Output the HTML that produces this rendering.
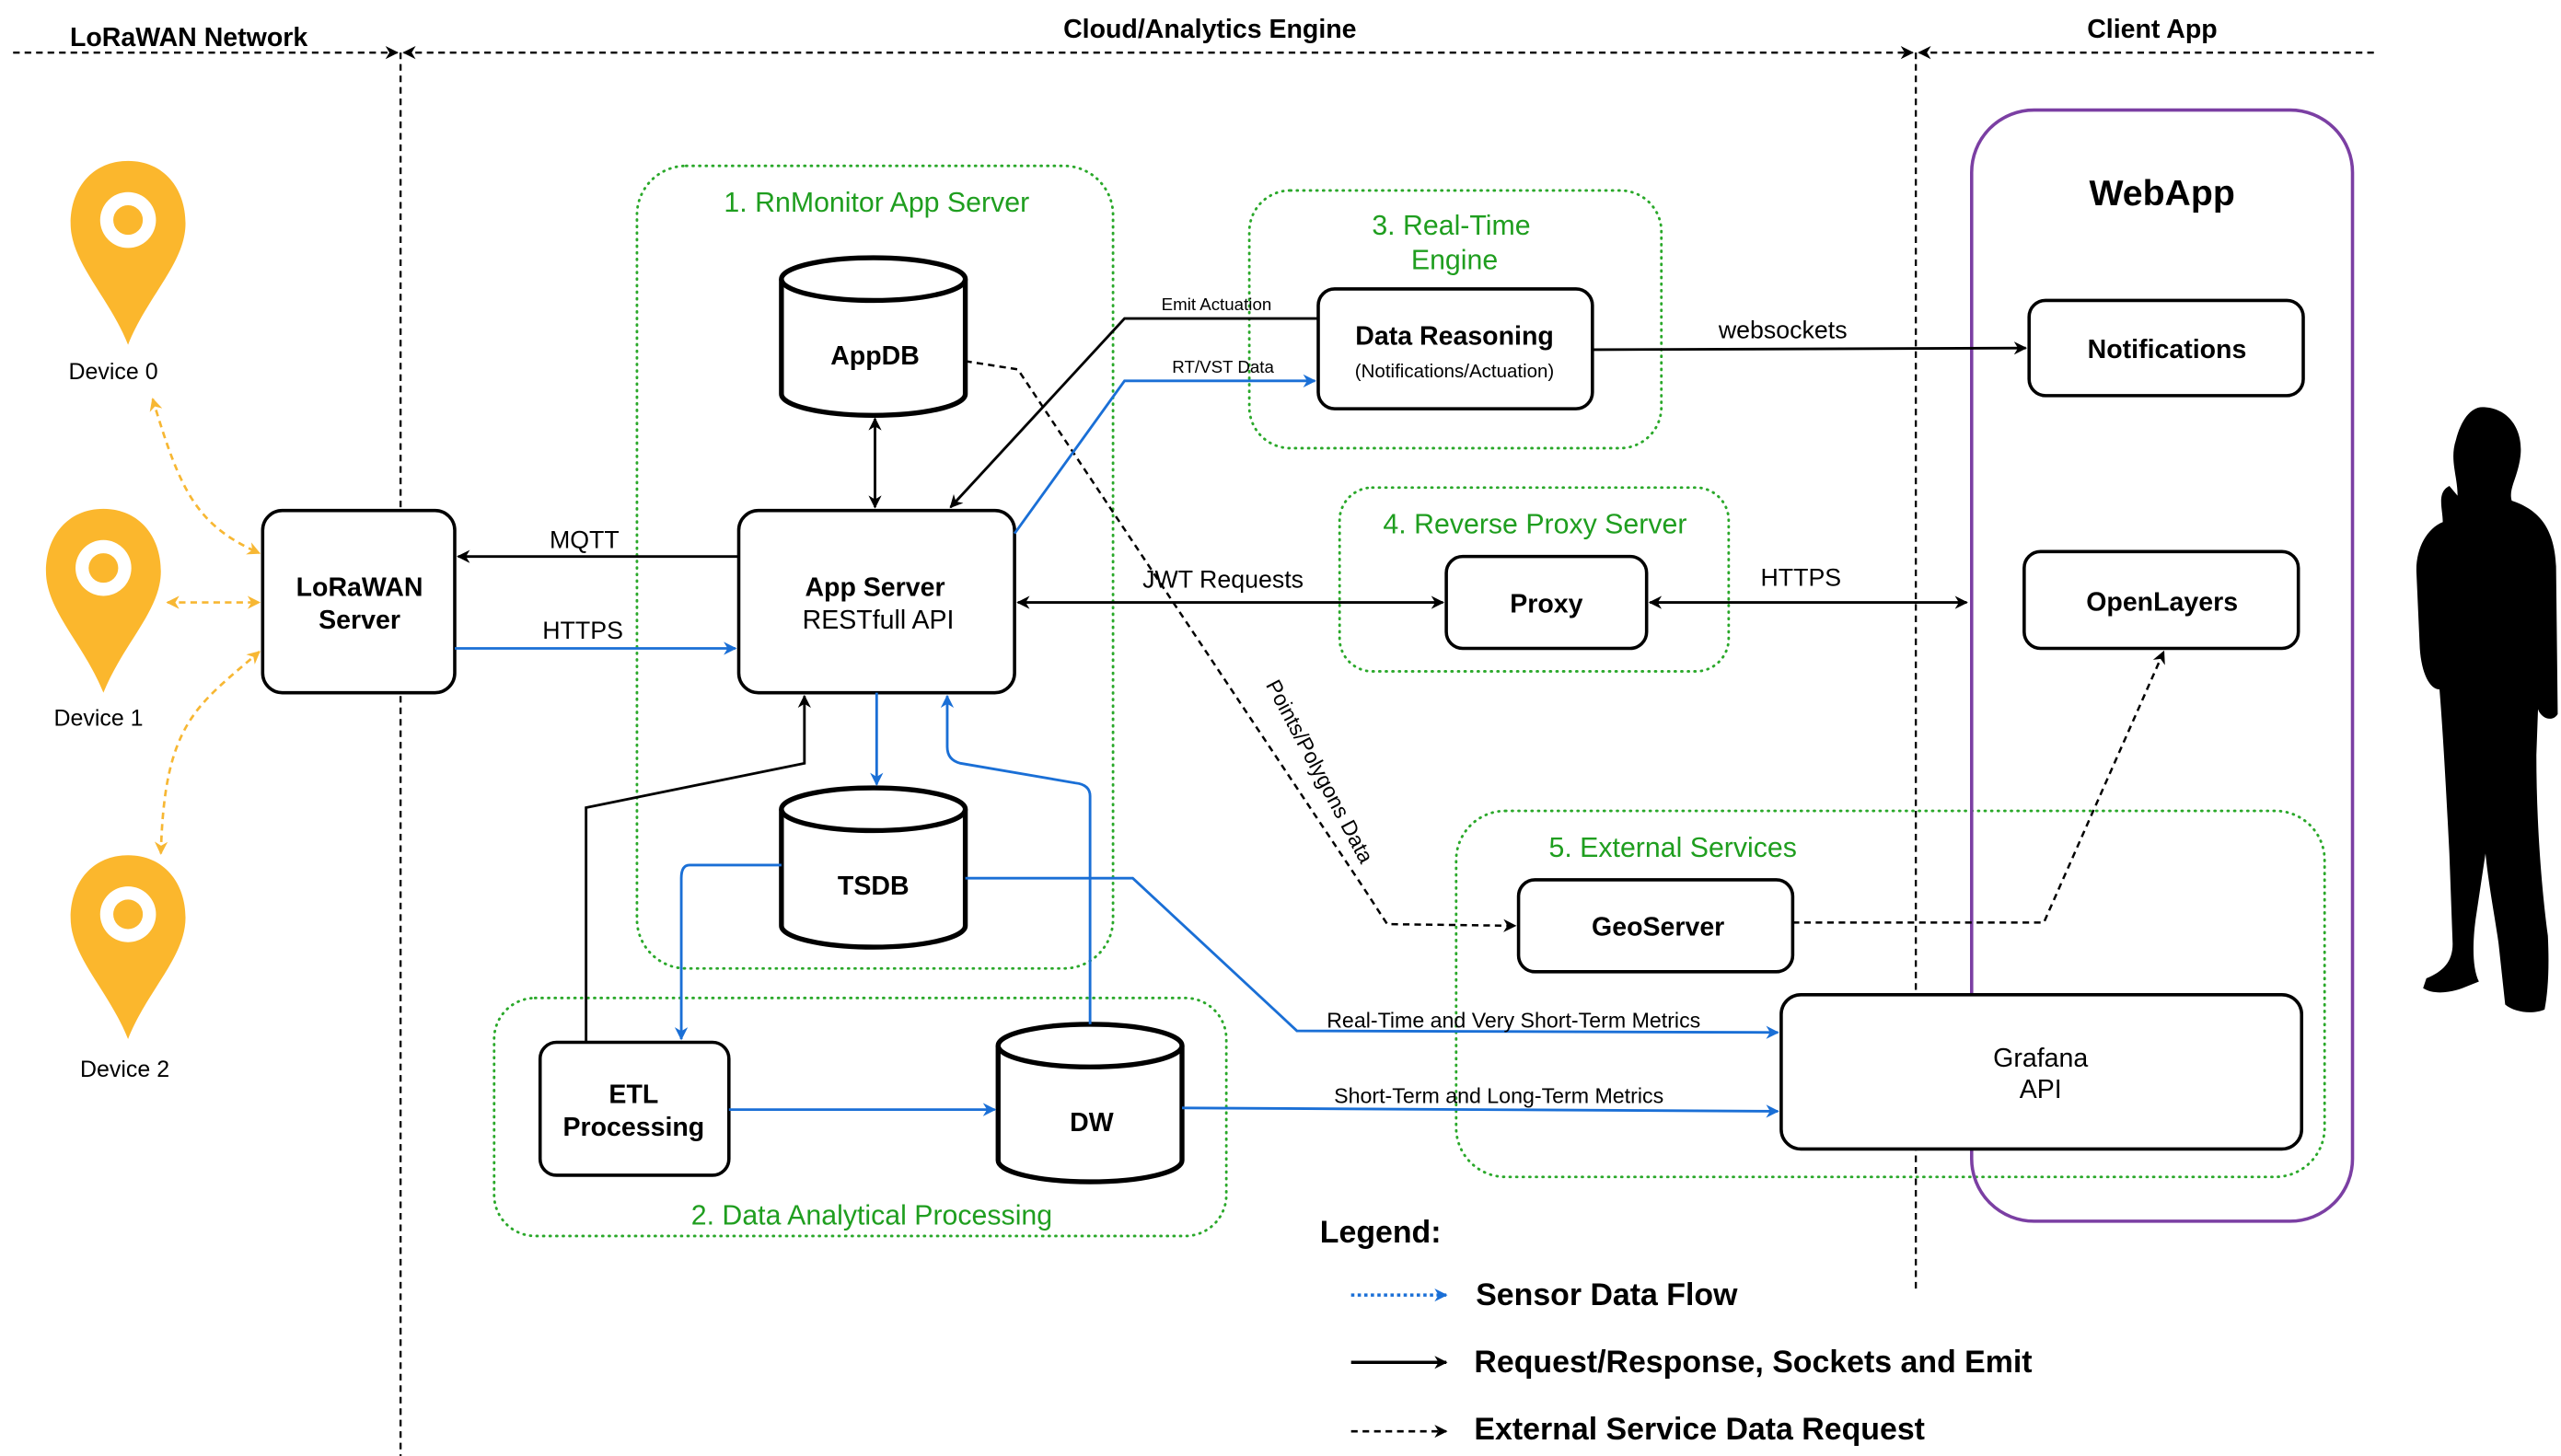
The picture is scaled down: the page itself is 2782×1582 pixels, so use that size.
<!DOCTYPE html>
<html><head><meta charset="utf-8"><style>
html,body{margin:0;padding:0;background:#fff;}
svg{display:block;font-family:"Liberation Sans",Arial,sans-serif;}
</style></head><body>
<svg width="2782" height="1582" viewBox="0 0 1560 887" xmlns="http://www.w3.org/2000/svg">
<defs>
<marker id="ab" viewBox="0 0 10 10" refX="9" refY="5" markerWidth="8" markerHeight="8" markerUnits="userSpaceOnUse" orient="auto-start-reverse"><path d="M0,0 L10,5 L0,10 L3,5 z" fill="#000"/></marker>
<marker id="au" viewBox="0 0 10 10" refX="9" refY="5" markerWidth="8" markerHeight="8" markerUnits="userSpaceOnUse" orient="auto-start-reverse"><path d="M0,0 L10,5 L0,10 L3,5 z" fill="#1a6fd6"/></marker>
<marker id="ay" viewBox="0 0 10 10" refX="9" refY="5" markerWidth="8" markerHeight="8" markerUnits="userSpaceOnUse" orient="auto-start-reverse"><path d="M0,0 L10,5 L0,10 L3,5 z" fill="#f7b733"/></marker>
</defs>
<rect width="1560" height="887" fill="#fff"/>

<g stroke="#000" stroke-width="1.3" stroke-dasharray="4,3" fill="none">
<line x1="8" y1="32" x2="242" y2="32" marker-end="url(#ab)"/>
<line x1="246" y1="32" x2="1165" y2="32" marker-start="url(#ab)" marker-end="url(#ab)"/>
<line x1="1169" y1="32" x2="1448" y2="32" marker-start="url(#ab)"/>
<line x1="244" y1="32" x2="244" y2="887"/>
<line x1="1167" y1="32" x2="1167" y2="785"/>
</g>
<g font-size="16" text-anchor="middle" fill="#000" font-weight="600">
<text x="115" y="28">LoRaWAN Network</text>
<text x="737" y="23">Cloud/Analytics Engine</text>
<text x="1311" y="23">Client App</text>
</g>

<g fill="none" stroke="#2aa82a" stroke-width="1.6" stroke-dasharray="0.5,3.5" stroke-linecap="round">
<rect x="388" y="101" width="290" height="489" rx="30"/>
<rect x="301" y="608" width="446" height="145" rx="25"/>
<rect x="761" y="116" width="251" height="157" rx="25"/>
<rect x="816" y="297" width="237" height="112" rx="20"/>
<rect x="887" y="494" width="529" height="223" rx="30"/>
</g>
<g fill="#1f9e1f" font-size="17" text-anchor="middle">
<text x="534" y="129">1. RnMonitor App Server</text>
<text x="531" y="746">2. Data Analytical Processing</text>
<text x="884" y="143">3. Real-Time</text>
<text x="886" y="164">Engine</text>
<text x="935" y="325">4. Reverse Proxy Server</text>
<text x="1019" y="522">5. External Services</text>
</g>

<rect x="1201" y="67" width="232" height="677" rx="38" fill="none" stroke="#7b3fa3" stroke-width="2"/>
<text x="1317" y="125" font-size="22" font-weight="bold" text-anchor="middle">WebApp</text>

<g>
<path d="M78,98 C100,98 113,115 113,136 C113,160 90,180 78,210 C66,180 43,160 43,136 C43,115 56,98 78,98z" fill="#fbb72d"/>
<circle cx="78" cy="134" r="17" fill="#fff"/><circle cx="78" cy="134" r="9" fill="#fbb72d"/>
<path d="M63,310 C85,310 98,327 98,348 C98,372 75,392 63,422 C51,392 28,372 28,348 C28,327 41,310 63,310z" fill="#fbb72d"/>
<circle cx="63" cy="346" r="17" fill="#fff"/><circle cx="63" cy="346" r="9" fill="#fbb72d"/>
<path d="M78,521 C100,521 113,538 113,559 C113,583 90,603 78,633 C66,603 43,583 43,559 C43,538 56,521 78,521z" fill="#fbb72d"/>
<circle cx="78" cy="557" r="17" fill="#fff"/><circle cx="78" cy="557" r="9" fill="#fbb72d"/>
</g>
<g font-size="14" text-anchor="middle">
<text x="69" y="231">Device 0</text>
<text x="60" y="442">Device 1</text>
<text x="76" y="656">Device 2</text>
</g>
<g fill="none" stroke="#f7b733" stroke-width="1.5" stroke-dasharray="4,3">
<path d="M93,243 C110,300 120,320 158,337" marker-start="url(#ay)" marker-end="url(#ay)"/>
<line x1="102" y1="367" x2="158" y2="367" marker-start="url(#ay)" marker-end="url(#ay)"/>
<path d="M98,520 C100,440 120,430 158,397" marker-start="url(#ay)" marker-end="url(#ay)"/>
</g>

<g fill="#fff" stroke="#000" stroke-width="2">
<rect x="160" y="311" width="117" height="111" rx="12"/>
<rect x="450" y="311" width="168" height="111" rx="12"/>
<rect x="329" y="635" width="115" height="81" rx="10"/>
<rect x="803" y="176" width="167" height="73" rx="10"/>
<rect x="881" y="339" width="122" height="56" rx="10"/>
<rect x="1236" y="183" width="167" height="58" rx="10"/>
<rect x="1233" y="336" width="167" height="59" rx="10"/>
<rect x="925" y="536" width="167" height="56" rx="10"/>
<rect x="1085" y="606" width="317" height="94" rx="12"/>
</g>
<g fill="#fff" stroke="#000" stroke-width="3">
<path d="M476,170 L476,240 A56,13 0 0 0 588,240 L588,170"/><ellipse cx="532" cy="170" rx="56" ry="13"/>
<path d="M476,493 L476,564 A56,13 0 0 0 588,564 L588,493"/><ellipse cx="532" cy="493" rx="56" ry="13"/>
<path d="M608,637 L608,707 A56,13 0 0 0 720,707 L720,637"/><ellipse cx="664" cy="637" rx="56" ry="13"/>
</g>

<g font-size="16" text-anchor="middle" font-weight="bold">
<text x="219" y="363">LoRaWAN</text><text x="219" y="383">Server</text>
<text x="533" y="363">App Server</text>
<text x="533" y="222">AppDB</text>
<text x="532" y="545">TSDB</text>
<text x="665" y="689">DW</text>
<text x="386" y="672">ETL</text><text x="386" y="692">Processing</text>
<text x="886" y="210">Data Reasoning</text>
<text x="942" y="373">Proxy</text>
<text x="1320" y="218">Notifications</text>
<text x="1317" y="372">OpenLayers</text>
<text x="1010" y="570">GeoServer</text>
</g>
<g font-size="16" text-anchor="middle">
<text x="535" y="383">RESTfull API</text>
<text x="1243" y="650">Grafana</text><text x="1243" y="669">API</text>
<text x="886" y="230" font-size="11.5">(Notifications/Actuation)</text>
</g>

<g fill="none" stroke="#000" stroke-width="1.6">
<line x1="450" y1="339" x2="279" y2="339" marker-end="url(#ab)"/>
<line x1="533" y1="255" x2="533" y2="309" marker-start="url(#ab)" marker-end="url(#ab)"/>
<line x1="620" y1="367" x2="879" y2="367" marker-start="url(#ab)" marker-end="url(#ab)"/>
<line x1="1005" y1="367" x2="1198" y2="367" marker-start="url(#ab)" marker-end="url(#ab)"/>
<line x1="970" y1="213" x2="1234" y2="212" marker-end="url(#ab)"/>
<path d="M803,194 L685,194 L579,309" marker-end="url(#ab)"/>
<path d="M357,635 L357,492 L490,465 L490,424" marker-end="url(#ab)"/>
</g>
<g fill="none" stroke="#000" stroke-width="1.4" stroke-dasharray="4,3">
<path d="M588,220 L620,225 L830,540 L845,563 L923,564" marker-end="url(#ab)"/>
<path d="M1092,562 L1245,562 L1318,397" marker-end="url(#ab)"/>
</g>
<g fill="none" stroke="#1a6fd6" stroke-width="1.6">
<line x1="277" y1="395" x2="448" y2="395" marker-end="url(#au)"/>
<path d="M618,325 L685,232 L801,232" marker-end="url(#au)"/>
<line x1="534" y1="422" x2="534" y2="478" marker-end="url(#au)"/>
<path d="M476,527 L420,527 Q415,527 415,535 L415,633" marker-end="url(#au)"/>
<path d="M664,624 L664,485 Q664,478 655,477 L585,465 Q577,463 577,455 L577,424" marker-end="url(#au)"/>
<line x1="444" y1="676" x2="606" y2="676" marker-end="url(#au)"/>
<path d="M588,535 L690,535 L790,628 L1083,629" marker-end="url(#au)"/>
<line x1="720" y1="675" x2="1083" y2="677" marker-end="url(#au)"/>
</g>

<g font-size="15" text-anchor="middle">
<text x="356" y="334">MQTT</text>
<text x="355" y="389">HTTPS</text>
<text x="745" y="358">JWT Requests</text>
<text x="1097" y="357">HTTPS</text>
<text x="1086" y="206">websockets</text>
</g>
<g font-size="10.5" text-anchor="middle">
<text x="741" y="189">Emit Actuation</text>
<text x="745" y="227">RT/VST Data</text>
</g>
<g font-size="13" text-anchor="middle">
<text x="922" y="626">Real-Time and Very Short-Term Metrics</text>
<text x="913" y="672">Short-Term and Long-Term Metrics</text>
<text x="0" y="0" transform="translate(800,472) rotate(62)">Points/Polygons Data</text>
</g>

<path fill="#000" d="M1512,248 C1528,248 1538,262 1535,280 C1533,292 1528,298 1530,305 C1545,310 1556,320 1557,345 L1558,435 C1555,440 1548,438 1546,432 L1545,460 C1545,500 1548,540 1552,570 C1553,590 1552,605 1550,615 C1543,618 1532,617 1526,612 L1522,575 C1520,560 1516,540 1514,520 L1508,560 C1506,575 1506,590 1510,598 L1500,602 C1492,605 1482,606 1476,602 L1478,596 C1488,592 1494,586 1494,575 L1492,520 C1490,480 1488,445 1486,420 C1480,420 1475,410 1474,395 L1472,350 C1471,335 1478,322 1488,318 C1488,310 1484,300 1492,296 L1497,302 C1497,290 1492,280 1496,268 C1499,256 1505,248 1512,248z"/>

<text x="804" y="757" font-size="19" font-weight="bold">Legend:</text>
<line x1="823" y1="789" x2="881" y2="789" stroke="#1a6fd6" stroke-width="2" stroke-dasharray="2,2" marker-end="url(#au)"/>
<line x1="823" y1="830" x2="881" y2="830" stroke="#000" stroke-width="2" marker-end="url(#ab)"/>
<line x1="823" y1="872" x2="881" y2="872" stroke="#000" stroke-width="1.5" stroke-dasharray="4,3" marker-end="url(#ab)"/>
<g font-size="19" font-weight="bold">
<text x="899" y="795">Sensor Data Flow</text>
<text x="898" y="836">Request/Response, Sockets and Emit</text>
<text x="898" y="877">External Service Data Request</text>
</g>
</svg>
</body></html>
